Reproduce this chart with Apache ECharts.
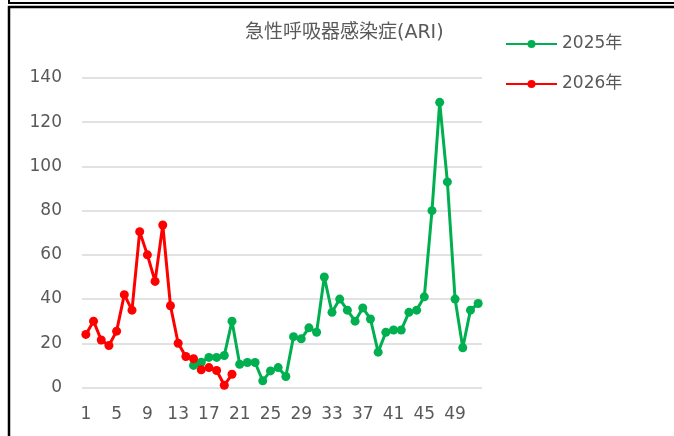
<!DOCTYPE html>
<html>
<head>
<meta charset="utf-8">
<script src="https://cdn.jsdelivr.net/npm/echarts@6/dist/echarts.min.js"></script>
<style>
  html, body { margin: 0; padding: 0; background: #fff; }
  #chart { width: 674px; height: 436px; }
</style>
</head>
<body>
<div id="chart"></div>
<script>
// 週番号 1..52
const weeks = Array.from({ length: 52 }, (_, i) => String(i + 1))

// 2025年 (第15週から)
const ari2025 = [
  null, null, null, null, null, null, null, null, null, null, null, null, null, null,
  10, 11.4, 13.6, 13.6, 14.5, 30, 10.5, 11.3, 11.3, 3, 7.5, 9, 5, 23, 22, 27, 25, 50,
  34, 40, 35, 30, 36, 31, 16, 25, 26, 26, 34, 35, 41, 80, 129, 93, 40, 18, 35, 38
]

// 2026年 (第1〜20週)
const ari2026 = [
  24, 30, 21.5, 19, 25.5, 42, 35, 70.5, 60, 48, 73.5, 37, 20, 14, 13, 8, 9, 7.7, 1, 6
]

const font = 'DejaVu Sans, "Noto Sans CJK JP", sans-serif'
const textColor = '#595959'

const chart = echarts.init(document.getElementById('chart'))

chart.setOption({
  backgroundColor: '#fff',
  animation: false,
  title: {
    text: '急性呼吸器感染症(ARI)',
    left: 245,
    top: 24,
    padding: 0,
    textStyle: { color: textColor, fontSize: 19, fontWeight: 'normal', fontFamily: font }
  },
  legend: {
    orient: 'vertical',
    left: 505,
    top: 34,
    padding: 0,
    itemWidth: 51,
    itemHeight: 10,
    itemGap: 20,
    textStyle: { color: textColor, fontSize: 17, lineHeight: 20, fontFamily: font },
    data: ['2025年', '2026年']
  },
  grid: { left: 82, right: 192, top: 78, bottom: 48.5 },
  xAxis: {
    type: 'category',
    data: weeks,
    boundaryGap: true,
    axisLine: { show: false },
    axisTick: { show: false },
    axisLabel: { interval: 3, color: textColor, fontSize: 17, margin: 19, fontFamily: font }
  },
  yAxis: {
    type: 'value',
    min: 0,
    max: 140,
    interval: 20,
    axisLine: { show: false },
    axisTick: { show: false },
    axisLabel: { color: textColor, fontSize: 17, margin: 20, fontFamily: font },
    splitLine: { lineStyle: { color: '#d9d9d9', width: 1.5 } }
  },
  series: [
    {
      name: '2025年',
      type: 'line',
      data: ari2025,
      symbol: 'circle',
      symbolSize: 9,
      showAllSymbol: true,
      lineStyle: { color: '#00b050', width: 3 },
      itemStyle: { color: '#00b050' }
    },
    {
      name: '2026年',
      type: 'line',
      data: ari2026,
      symbol: 'circle',
      symbolSize: 9,
      showAllSymbol: true,
      lineStyle: { color: '#ff0000', width: 3 },
      itemStyle: { color: '#ff0000' }
    }
  ],
  graphic: [
    {
      type: 'rect',
      shape: { x: 9, y: -20, width: 700, height: 23 },
      style: { fill: 'none', stroke: '#000', lineWidth: 2 }
    },
    {
      type: 'rect',
      shape: { x: 9, y: 7, width: 700, height: 500 },
      style: { fill: 'none', stroke: '#000', lineWidth: 2.5 }
    }
  ]
})
</script>
</body>
</html>
